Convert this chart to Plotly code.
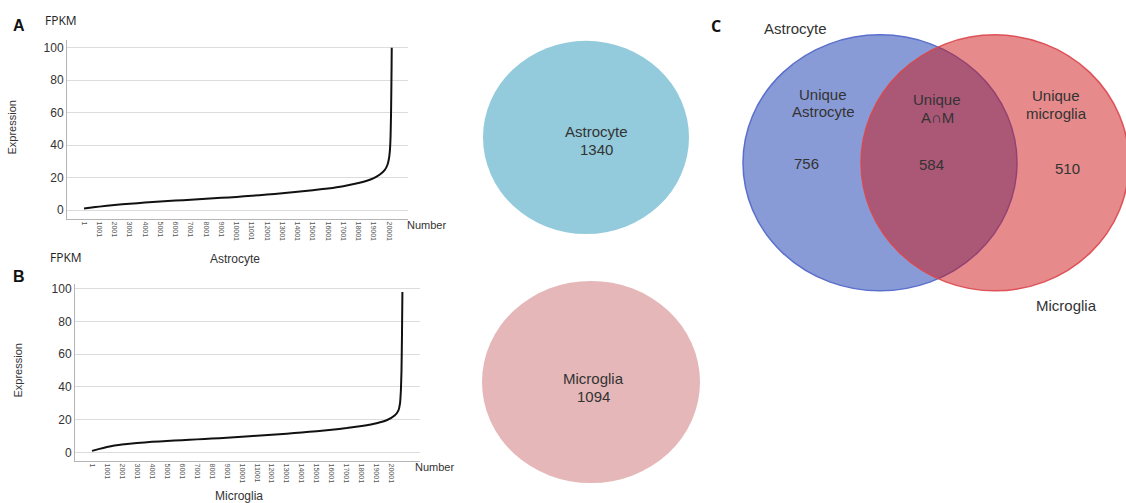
import plotly.graph_objects as go

# ---------------- data ----------------
astro_rank = [1, 500, 1001, 2001, 3001, 4001, 5001, 6001, 7001, 8001, 9001, 10001,
              11001, 12001, 13001, 14001, 15001, 16001, 17001, 18001, 18501, 19001,
              19401, 19701, 19901, 20001, 20061, 20101, 20131, 20151, 20171, 20180]
astro_fpkm = [1.0, 1.6, 2.2, 3.2, 4.0, 4.7, 5.3, 5.9, 6.4, 7.0, 7.6, 8.2,
              8.9, 9.6, 10.4, 11.3, 12.3, 13.4, 14.8, 16.7, 18.0, 19.8,
              22.0, 24.5, 28.0, 32.0, 37.0, 45.0, 58.0, 72.0, 90.0, 100.0]

micro_rank = [1, 500, 1001, 1501, 2001, 3001, 4001, 5001, 6001, 7001, 8001, 9001,
              10001, 11001, 12001, 13001, 14001, 15001, 16001, 17001, 18001, 19001,
              19701, 20201, 20451, 20561, 20621, 20661, 20691, 20711, 20721]
micro_fpkm = [1.0, 2.2, 3.3, 4.2, 4.9, 5.8, 6.5, 7.0, 7.5, 8.0, 8.5, 9.0,
              9.6, 10.2, 10.8, 11.5, 12.2, 13.0, 13.9, 14.9, 16.2, 17.9,
              19.8, 22.5, 25.5, 30.0, 38.0, 50.0, 70.0, 88.0, 98.0]

rank_ticks = list(range(1, 20002, 1000))
rank_labels = [str(v) for v in rank_ticks]
fpkm_ticks = [0, 20, 40, 60, 80, 100]

astro_total = 1340
micro_total = 1094
unique_astro = 756
shared = 584
unique_micro = 510

# ---------------- layout helpers ----------------
W, H = 1126, 503
def px(x):
    return x / W
def py(y):
    return 1 - y / H

FONT = "Arial, Liberation Sans, sans-serif"
TXT = "#333333"

fig = go.Figure()
fig.add_trace(go.Scatter(x=astro_rank, y=astro_fpkm, mode="lines",
                         line=dict(color="#111111", width=2, shape="spline", smoothing=0.4),
                         xaxis="x", yaxis="y", showlegend=False))
fig.add_trace(go.Scatter(x=micro_rank, y=micro_fpkm, mode="lines",
                         line=dict(color="#111111", width=2, shape="spline", smoothing=0.4),
                         xaxis="x2", yaxis="y2", showlegend=False))

xcommon = dict(tickvals=rank_ticks, ticktext=rank_labels, tickangle=90,
               tickfont=dict(size=7, color="#555555", family=FONT),
               showline=True, linecolor="#b5b5b5", linewidth=1,
               showgrid=False, zeroline=False, ticks="")
ycommon = dict(tickvals=fpkm_ticks, tickfont=dict(size=12, color=TXT, family=FONT),
               showline=True, linecolor="#b5b5b5", linewidth=1,
               showgrid=True, gridcolor="#dcdcdc", gridwidth=1,
               zeroline=False, ticks="")

fig.update_layout(
    width=W, height=H, margin=dict(l=0, r=0, t=0, b=0),
    paper_bgcolor="white", plot_bgcolor="white",
    xaxis=dict(domain=[px(67), px(408)], range=[-1115, 21246], anchor="y", **xcommon),
    yaxis=dict(domain=[py(218), py(38)], range=[-5.5, 104.9], anchor="x", **ycommon),
    xaxis2=dict(domain=[px(75), px(420)], range=[-1135, 21896], anchor="y2", **xcommon),
    yaxis2=dict(domain=[py(461), py(283)], range=[-5.3, 102.9], anchor="x2", **ycommon),
)

shapes = []
# single-set circles
shapes.append(dict(type="circle", xref="paper", yref="paper",
                   x0=px(483), x1=px(689), y0=py(233), y1=py(39),
                   fillcolor="#93CBDC", line=dict(width=0), layer="below"))
shapes.append(dict(type="circle", xref="paper", yref="paper",
                   x0=px(482), x1=px(700), y0=py(483), y1=py(280),
                   fillcolor="#E5B7B8", line=dict(width=0), layer="below"))
# venn
shapes.append(dict(type="circle", xref="paper", yref="paper",
                   x0=px(743), x1=px(1017), y0=py(290), y1=py(33),
                   fillcolor="#899BD6", line=dict(color="#5A6ECB", width=1.5)))
shapes.append(dict(type="circle", xref="paper", yref="paper",
                   x0=px(861), x1=px(1129), y0=py(290), y1=py(33),
                   fillcolor="rgba(205,22,24,0.5)", line=dict(color="rgba(220,70,75,0.9)", width=1.5)))
fig.update_layout(shapes=shapes)

def ann(text, x, y, size=11, bold=False, angle=0, family=FONT, color=TXT):
    t = f"<b>{text}</b>" if bold else text
    return dict(text=t, x=px(x), y=py(y), xref="paper", yref="paper",
                xanchor="center", yanchor="middle", showarrow=False,
                textangle=angle, font=dict(size=size, color=color, family=family))

OPEN = "Open Sans, sans-serif"
anns = [
    ann("A", 19, 24, size=16, bold=True, color="#111"),
    ann("FPKM", 61, 19, size=12, family=OPEN, color="#222"),
    ann("Expression", 12, 126, size=11, angle=-90),
    ann("Number", 426, 224, size=11),
    ann("Astrocyte", 235, 258, size=12),
    ann("B", 19, 276, size=16, bold=True, color="#111"),
    ann("FPKM", 66, 257, size=12, family=OPEN, color="#222"),
    ann("Expression", 18, 370, size=11, angle=-90),
    ann("Number", 434, 467, size=11),
    ann("Microglia", 239, 496, size=12),
    ann("Astrocyte", 596, 130, size=15),
    ann(str(astro_total), 596, 148, size=15),
    ann("Microglia", 593, 378, size=15),
    ann(str(micro_total), 593, 396, size=15),
    ann("C", 716, 24, size=16, bold=True, family=OPEN, color="#111"),
    ann("Astrocyte", 795, 27, size=15),
    ann("Microglia", 1066, 305, size=15),
    ann("Unique", 823, 93, size=15),
    ann("Astrocyte", 823, 110, size=15),
    ann("Unique", 937, 98, size=15),
    ann("A∩M", 937, 116, size=15),
    ann("Unique", 1056, 94, size=15),
    ann("microglia", 1056, 112, size=15),
    ann(str(unique_astro), 806, 162, size=15),
    ann(str(shared), 931, 163, size=15),
    ann(str(unique_micro), 1067, 167, size=15),
]
fig.update_layout(annotations=anns)

fig.write_html("out.html", config={"displayModeBar": False},
               post_script="document.body.style.margin='0';document.body.style.overflow='hidden';")
